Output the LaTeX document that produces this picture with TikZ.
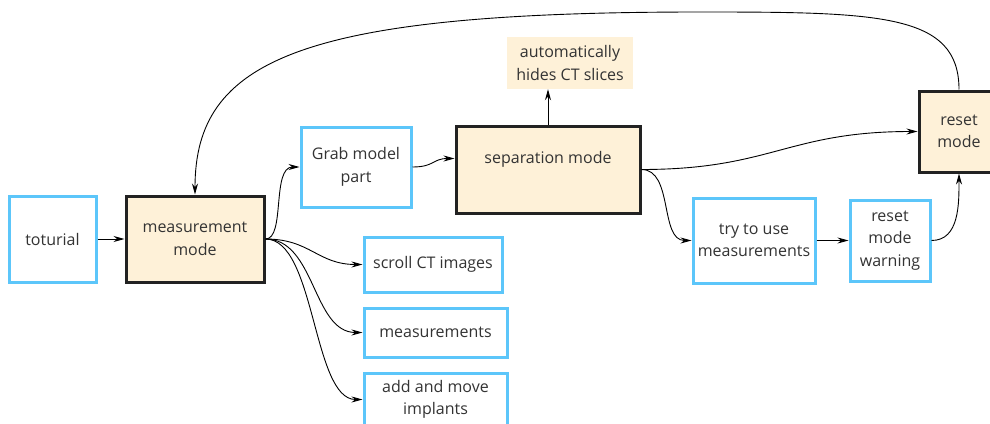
\documentclass[tikz,border=0pt]{standalone}
\usepackage{fontspec}
\setmainfont{Open Sans}
\usetikzlibrary{arrows.meta}
\definecolor{boxblue}{HTML}{5CC6FA}
\definecolor{cream}{HTML}{FEF1D8}
\definecolor{darkline}{HTML}{222222}
\definecolor{txt}{HTML}{333333}
\tikzset{
  base/.style={rectangle, inner sep=0pt, align=center, text=txt,
    font=\fontsize{16}{22.5}\selectfont},
  bluebox/.style={base, draw=boxblue, line width=3pt, fill=white},
  modebox/.style={base, draw=darkline, line width=3pt, fill=cream},
  notebox/.style={base, fill=cream},
  conn/.style={line width=0.9pt, -{Stealth[length=11pt,width=6pt]}},
}
\begin{document}
\begin{tikzpicture}[x=1pt,y=-1pt]
\useasboundingbox (0,0) rectangle (990,423);
\node[bluebox, minimum width=87pt, minimum height=86pt] (tot) at (52.5,239) {toturial};
\node[modebox, minimum width=138pt, minimum height=86pt] (mm) at (195,239) {measurement\\mode};
\node[bluebox, minimum width=110pt, minimum height=80pt] (grab) at (356,167) {Grab model\\part};
\node[modebox, minimum width=184pt, minimum height=87pt] (sep) at (548,169.5) {\raisebox{24pt}{separation mode}};
\node[notebox, minimum width=126pt, minimum height=52pt] (auto) at (570,63) {automatically\\hides CT slices};
\node[modebox, minimum width=80pt, minimum height=81pt] (reset) at (959,131.5) {reset\\mode};
\node[bluebox, minimum width=122pt, minimum height=85pt] (try) at (754,240.5) {try to use\\measurements};
\node[bluebox, minimum width=80pt, minimum height=81pt] (warn) at (890,240.5) {reset\\mode\\warning};
\node[bluebox, minimum width=138pt, minimum height=55pt] (scroll) at (433,264.5) {scroll CT images};
\node[bluebox, minimum width=143pt, minimum height=49pt] (meas) at (435.5,332.5) {measurements};
\node[bluebox, minimum width=143pt, minimum height=53pt] (add) at (435.5,399.5) {add and move\\implants};

\draw[conn] (tot) -- (mm);
\draw[conn] (mm.east) .. controls +(20,0) and +(-28,0) .. (grab.west);
\draw[conn] (mm.east) .. controls +(45,0) and +(-45,0) .. (scroll.west);
\draw[conn] (mm.east) .. controls +(50,0) and +(-50,0) .. (meas.west);
\draw[conn] (mm.east) .. controls +(50,0) and +(-50,0) .. (add.west);
\draw[conn] (grab.east) .. controls +(22,0) and +(-22,0) .. ([yshift=11pt]sep.west);
\draw[conn] (sep.north) -- (sep.north |- auto.south);
\draw[conn] (sep.east) .. controls +(130,0) and +(-130,0) .. (reset.west);
\draw[conn] (sep.east) .. controls +(32,0) and +(-32,0) .. (try.west);
\draw[conn] (try) -- (warn);
\draw[conn] (warn.east) .. controls +(28,0) and +(0,30) .. (reset.south);
\draw[conn] (reset.north) .. controls +(0,-76) and +(180,0) .. (700,12) .. controls (300,12) and (195,60) .. (mm.north);
\end{tikzpicture}
\end{document}
